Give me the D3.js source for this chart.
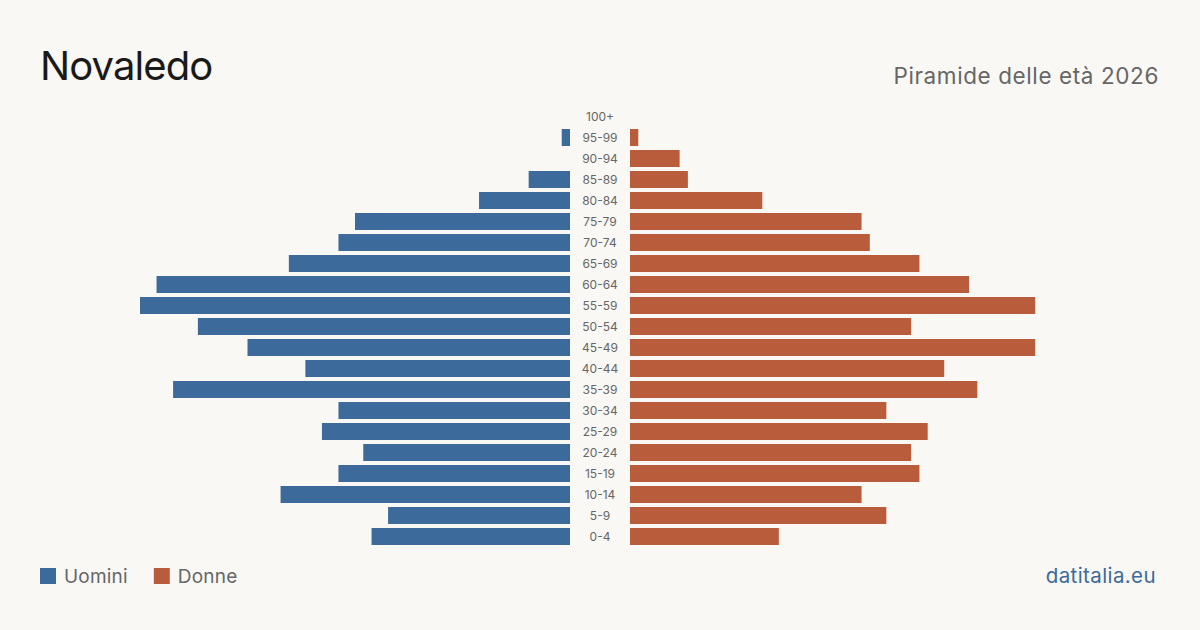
<!DOCTYPE html>
<html>
<head>
<meta charset="utf-8">
<script src="https://cdn.jsdelivr.net/npm/d3@7"></script>
<style>
  body { margin: 0; background: #f9f8f4; }
  svg { display: block; font-family: Inter, "Noto Sans", sans-serif; }
</style>
</head>
<body>
<svg width="1200" height="630"></svg>
<script>
const ageGroups = ["100+", "95-99", "90-94", "85-89", "80-84", "75-79", "70-74", "65-69", "60-64", "55-59",
    "50-54", "45-49", "40-44", "35-39", "30-34", "25-29", "20-24", "15-19", "10-14", "5-9", "0-4"];
const men = [0, 1, 0, 5, 11, 26, 28, 34, 50, 52, 45, 39, 32, 48, 28, 30, 25, 28, 35, 22, 24];
const women = [0, 1, 6, 7, 16, 28, 29, 35, 41, 49, 34, 49, 38, 42, 31, 36, 34, 35, 28, 31, 18];

const blue = "#3b6a9b";
const orange = "#b95c3c";
const center = 600;
const gap = 30;
const maxLen = 430;

const svg = d3.select("svg");
svg.append("rect").attr("width", 1200).attr("height", 630).attr("fill", "#f9f8f4");

const y = d3.scaleBand()
    .domain(ageGroups)
    .range([106, 547])
    .paddingInner(0.19)
    .paddingOuter(0.095);

const x = d3.scaleLinear()
    .domain([0, 52])
    .range([0, maxLen]);

svg.selectAll("rect.men")
    .data(ageGroups)
    .enter()
    .append("rect")
    .attr("class", "men")
    .attr("x", (d, i) => center - gap - x(men[i]))
    .attr("y", d => y(d))
    .attr("width", (d, i) => x(men[i]))
    .attr("height", y.bandwidth())
    .attr("fill", blue);

svg.selectAll("rect.women")
    .data(ageGroups)
    .enter()
    .append("rect")
    .attr("class", "women")
    .attr("x", center + gap)
    .attr("y", d => y(d))
    .attr("width", (d, i) => x(women[i]))
    .attr("height", y.bandwidth())
    .attr("fill", orange);

svg.selectAll("text.age")
    .data(ageGroups)
    .enter()
    .append("text")
    .attr("class", "age")
    .attr("x", center)
    .attr("y", d => y(d) + y.bandwidth() / 2)
    .attr("text-anchor", "middle")
    .attr("dominant-baseline", "central")
    .attr("font-size", 12)
    .attr("fill", "#666")
    .text(d => d);

svg.append("text")
    .attr("x", 40)
    .attr("y", 80)
    .attr("font-size", 40)
    .attr("letter-spacing", -0.9)
    .attr("fill", "#1a1a1a")
    .text("Novaledo");

svg.append("text")
    .attr("x", 1159)
    .attr("y", 84)
    .attr("text-anchor", "end")
    .attr("font-size", 22.5)
    .attr("letter-spacing", 0.6)
    .attr("fill", "#666")
    .text("Piramide delle età 2026");

const legend = svg.append("g").attr("transform", "translate(40, 568)");
const items = [["Uomini", blue], ["Donne", orange]];
let lx = 0;
items.forEach(([label, color]) => {
    const g = legend.append("g").attr("transform", `translate(${lx}, 0)`);
    g.append("rect").attr("width", 16).attr("height", 16).attr("fill", color);
    const t = g.append("text")
        .attr("x", 24)
        .attr("y", 8)
        .attr("dominant-baseline", "central")
        .attr("font-size", 19)
        .attr("letter-spacing", 0.2)
        .attr("fill", "#666")
        .text(label);
    lx += 24 + t.node().getComputedTextLength() + 26;
});

svg.append("text")
    .attr("x", 1156)
    .attr("y", 583)
    .attr("text-anchor", "end")
    .attr("font-size", 20.5)
    .attr("letter-spacing", 0.4)
    .attr("fill", blue)
    .text("datitalia.eu");
</script>
</body>
</html>
